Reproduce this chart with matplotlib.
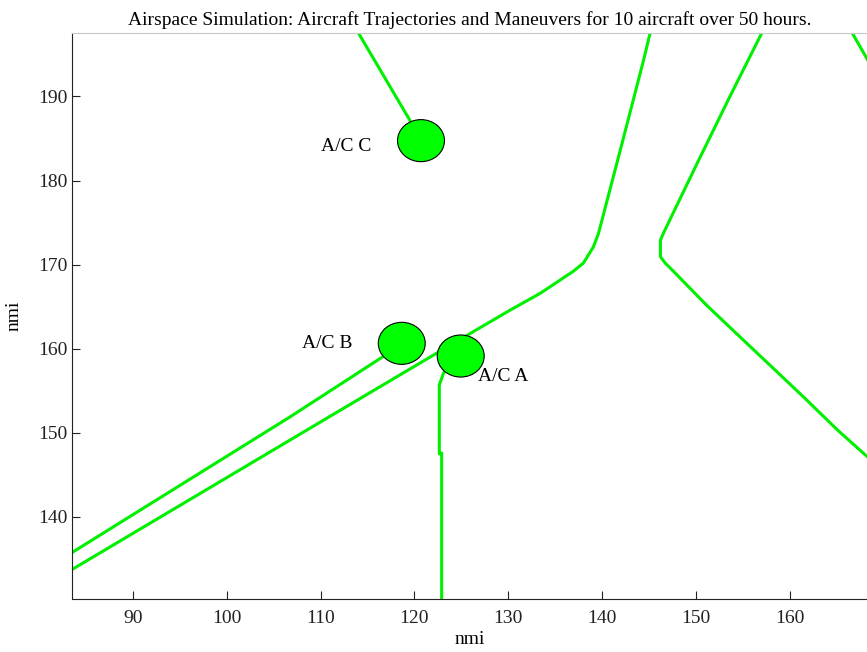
import matplotlib.pyplot as plt
from matplotlib.patches import Ellipse

plt.rcParams['font.family'] = ['Liberation Serif', 'DejaVu Serif']

# trajectories (nmi)
path_ne_x = [83.0, 110.3, 122.4, 125.6, 130.2, 133.4, 136.9, 138.0, 139.05, 139.6, 142.2, 144.4, 145.2]
path_ne_y = [133.4, 151.5, 159.5, 161.6, 164.6, 166.6, 169.2, 170.2, 172.1, 173.7, 184.8, 194.3, 198.0]

path_b_x = [83.0, 106.75, 116.7, 118.65]
path_b_y = [135.4, 151.9, 159.1, 160.65]

path_s_x = [122.9, 122.9, 122.65, 122.65, 123.1, 123.6, 124.9]
path_s_y = [129.5, 147.6, 147.5, 155.7, 157.1, 157.9, 159.1]

path_c_x = [113.8, 119.5, 120.7]
path_c_y = [198.0, 187.2, 184.7]

path_e_x = [157.2, 153.6, 150.0, 146.5, 146.2, 146.2, 146.7, 147.6,
            151.1, 154.5, 158.2, 161.6, 165.1, 168.6]
path_e_y = [198.0, 190.0, 181.8, 173.7, 172.9, 170.95, 170.2, 169.2,
            165.2, 161.6, 157.7, 154.1, 150.3, 146.8]

path_f_x = [166.4, 168.6]
path_f_y = [198.0, 193.7]

# aircraft positions
ac_names = ['A/C A', 'A/C B', 'A/C C']
ac_x = [124.93, 118.65, 120.7]
ac_y = [159.14, 160.65, 184.75]

xlim = (83.5, 168.2)
ylim = (130.25, 197.55)
fs = 14

fig = plt.figure(figsize=(8.67, 6.52), dpi=100)
ax = fig.add_axes([0.0827, 0.0813, 0.9173, 0.8681])

green = '#00f000'
for xs, ys in [(path_ne_x, path_ne_y), (path_b_x, path_b_y), (path_s_x, path_s_y),
               (path_c_x, path_c_y), (path_e_x, path_e_y), (path_f_x, path_f_y)]:
    ax.plot(xs, ys, color=green, lw=2.2, solid_joinstyle='round', zorder=2)

for name, x, y in zip(ac_names, ac_x, ac_y):
    ax.add_patch(Ellipse((x, y), 5.0, 5.0, facecolor='#00ff00', edgecolor='black',
                         lw=0.8, zorder=3))

ax.text(126.8, 156.7, 'A/C A', ha='left', va='center', fontsize=fs)
ax.text(113.4, 160.6, 'A/C B', ha='right', va='center', fontsize=fs)
ax.text(115.45, 184.1, 'A/C C', ha='right', va='center', fontsize=fs)

ax.set_xlim(*xlim)
ax.set_ylim(*ylim)
ax.set_xticks(range(90, 161, 10))
ax.set_yticks(range(140, 191, 10))
ax.tick_params(direction='in', length=6, width=0.8, labelsize=fs, colors='#222222',
               top=False, right=False)
ax.tick_params(axis='x', pad=8)
ax.tick_params(axis='y', pad=3)

for side in ['left', 'bottom']:
    ax.spines[side].set_color('#222222')
    ax.spines[side].set_linewidth(0.8)
ax.spines['top'].set_color('#c8c8c8')
ax.spines['right'].set_visible(False)

ax.set_xlabel('nmi', fontsize=fs, labelpad=3)
ax.set_ylabel('nmi', fontsize=fs, labelpad=11)
ax.set_title('Airspace Simulation: Aircraft Trajectories and Maneuvers for 10 aircraft over 50 hours.',
             fontsize=fs, pad=6)

fig.savefig('out.png', dpi=100)
